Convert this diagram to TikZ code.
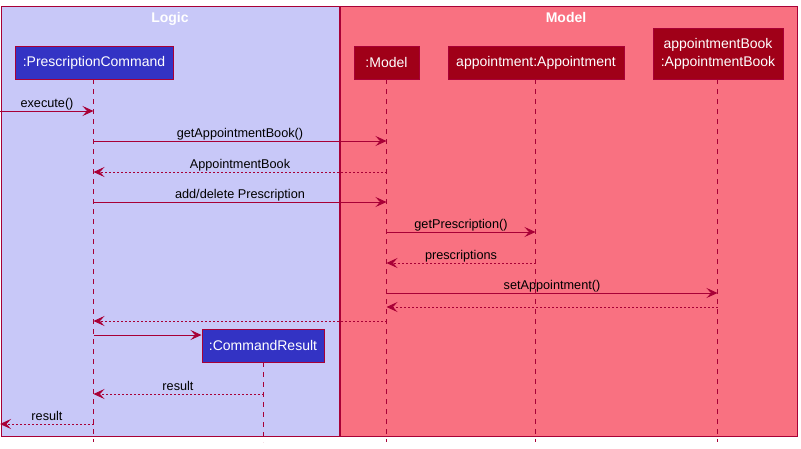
\documentclass[tikz,border=0pt]{standalone}
\usepackage{fontspec}
\setmainfont{Liberation Sans}
\usetikzlibrary{arrows.meta}
\definecolor{umlline}{HTML}{A80036}
\definecolor{logicbg}{HTML}{C8C8F8}
\definecolor{modelbg}{HTML}{F97181}
\definecolor{partblue}{HTML}{3333C4}
\definecolor{partred}{HTML}{A00018}
\tikzset{
  grp/.style={draw=umlline, line width=0.8pt},
  grptitle/.style={text=white, font=\fontsize{14}{16}\selectfont\bfseries, anchor=base},
  partb/.style={draw=umlline, line width=1pt, fill=partblue, text=white, minimum height=33pt, inner sep=0pt, font=\fontsize{14}{16.5}\selectfont, align=center},
  partr/.style={partb, fill=partred},
  life/.style={draw=umlline, line width=0.8pt, dash pattern=on 5pt off 5pt},
  msg/.style={draw=umlline, line width=0.8pt, -{Stealth[length=11pt,width=10pt,inset=4.5pt]}},
  ret/.style={msg, dash pattern=on 2pt off 2pt},
  lbl/.style={anchor=base, font=\fontsize{12.7}{15}\selectfont, inner sep=0pt}
}
\begin{document}
\begin{tikzpicture}[x=1pt,y=-1pt]
\useasboundingbox (0,0) rectangle (801,448);
% groups
\draw[grp, fill=logicbg] (1,6) rectangle (339,436);
\draw[grp, fill=modelbg] (340,6) rectangle (797,436);
\node[grptitle] (tlogic) at (170,22) {Logic};
\node[grptitle] (tmodel) at (566,22) {Model};
% lifeline ends
\coordinate (pcend) at (93.5,442);
\coordinate (mend) at (386.5,442);
\coordinate (aend) at (535.5,442);
\coordinate (abend) at (717.5,442);
\coordinate (crend) at (263.5,442);
% lifelines
\draw[life] (93.5,79) -- (pcend);
\draw[life] (386.5,79) -- (mend);
\draw[life] (535.5,79) -- (aend);
\draw[life] (717.5,79) -- (abend);
\draw[life] (263.5,362) -- (crend);
% participants
\node[partb, minimum width=158pt] (pc) at (94,62.5) {:PrescriptionCommand};
\node[partr, minimum width=65pt] (m) at (386.5,62.5) {:Model};
\node[partr, minimum width=176pt] (a) at (536,62.5) {appointment:Appointment};
\node[partr, minimum width=130pt, minimum height=51pt, font=\fontsize{14}{18}\selectfont] (ab) at (718,53.5) {appointmentBook\\:AppointmentBook};
\node[partb, minimum width=122pt] (cr) at (263,345.5) {:CommandResult};
% message coordinates
\coordinate (start) at (0,111);
\coordinate (pc1) at (93.5,111);
\coordinate (pc2) at (93.5,141); \coordinate (m2) at (386.5,141);
\coordinate (pc3) at (93.5,172); \coordinate (m3) at (386.5,172);
\coordinate (pc4) at (93.5,202); \coordinate (m4) at (386.5,202);
\coordinate (m5) at (386.5,232); \coordinate (a5) at (535.5,232);
\coordinate (m6) at (386.5,263); \coordinate (a6) at (535.5,263);
\coordinate (m7) at (386.5,293); \coordinate (ab7) at (717.5,293);
\coordinate (m8) at (386.5,307); \coordinate (ab8) at (717.5,307);
\coordinate (m9) at (386.5,321); \coordinate (pc9) at (93.5,321);
\coordinate (pc10) at (93.5,335);
\coordinate (pc11) at (93.5,394); \coordinate (cr11) at (263.5,394);
\coordinate (pc12) at (93.5,424); \coordinate (out) at (0,424);
% messages
\draw[msg] (start) -- (pc1);
\node[lbl] (l1) at (47,107) {execute()};
\draw[msg] (pc2) -- (m2);
\node[lbl] (l2) at (240,137) {getAppointmentBook()};
\draw[ret] (m3) -- (pc3);
\node[lbl] (l3) at (240,168) {AppointmentBook};
\draw[msg] (pc4) -- (m4);
\node[lbl] (l4) at (240,198) {add/delete Prescription};
\draw[msg] (m5) -- (a5);
\node[lbl] (l5) at (461,228) {getPrescription()};
\draw[ret] (a6) -- (m6);
\node[lbl] (l6) at (461,259) {prescriptions};
\draw[msg] (m7) -- (ab7);
\node[lbl] (l7) at (552,289) {setAppointment()};
\draw[ret] (ab8) -- (m8);
\draw[ret] (m9) -- (pc9);
\draw[msg] (pc10) -- (cr.west |- pc10);
\draw[ret] (cr11) -- (pc11);
\node[lbl] (l11) at (178,390) {result};
\draw[ret] (pc12) -- (out);
\node[lbl] (l12) at (47,420) {result};
\end{tikzpicture}
\end{document}
